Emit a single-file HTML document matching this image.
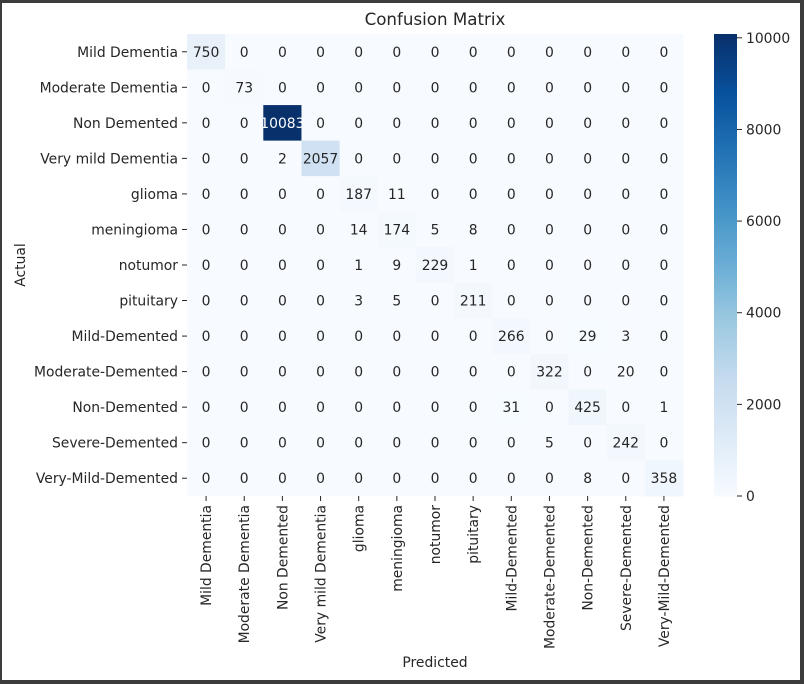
<!DOCTYPE html>
<html><head><meta charset="utf-8">
<style>
html,body{margin:0;padding:0;background:#fff;}
#frame{position:absolute;left:0;top:0;width:798px;height:677px;border-top:3px solid #3c3c3c;border-left:2px solid #3c3c3c;border-right:4px solid #3c3c3c;border-bottom:4px solid #3c3c3c;background:#fff;}
svg{position:absolute;left:0;top:0;}
text{font-family:"DejaVu Sans","Liberation Sans",sans-serif;font-size:13.9px;fill:#262626;}
</style></head>
<body>
<div id="frame"></div>
<svg id="chart" width="804" height="684"></svg>
<script>
const labels = ["Mild Dementia","Moderate Dementia","Non Demented","Very mild Dementia","glioma","meningioma","notumor","pituitary","Mild-Demented","Moderate-Demented","Non-Demented","Severe-Demented","Very-Mild-Demented"];
const matrix = [
[750,0,0,0,0,0,0,0,0,0,0,0,0],
[0,73,0,0,0,0,0,0,0,0,0,0,0],
[0,0,10083,0,0,0,0,0,0,0,0,0,0],
[0,0,2,2057,0,0,0,0,0,0,0,0,0],
[0,0,0,0,187,11,0,0,0,0,0,0,0],
[0,0,0,0,14,174,5,8,0,0,0,0,0],
[0,0,0,0,1,9,229,1,0,0,0,0,0],
[0,0,0,0,3,5,0,211,0,0,0,0,0],
[0,0,0,0,0,0,0,0,266,0,29,3,0],
[0,0,0,0,0,0,0,0,0,322,0,20,0],
[0,0,0,0,0,0,0,0,31,0,425,0,1],
[0,0,0,0,0,0,0,0,0,5,0,242,0],
[0,0,0,0,0,0,0,0,0,0,8,0,358]];
const cbTicks = [0,2000,4000,6000,8000,10000];

const NS="http://www.w3.org/2000/svg";
const svg=document.getElementById('chart');
const L=187,T=34,R=683,B=496;
const n=labels.length, cw=(R-L)/n, ch=(B-T)/n;
let vmax=0; matrix.forEach(r=>r.forEach(v=>{if(v>vmax)vmax=v;}));
const stops=[[247,251,255],[222,235,247],[198,219,239],[158,202,225],[107,174,214],[66,146,198],[33,113,181],[8,81,156],[8,48,107]];
function color(v){let t=Math.max(0,Math.min(1,v/vmax))*(stops.length-1);let i=Math.min(Math.floor(t),stops.length-2);let f=t-i;
 const c=stops[i].map((a,k)=>Math.round(a+(stops[i+1][k]-a)*f));return `rgb(${c[0]},${c[1]},${c[2]})`;}
function el(tag,attrs,txt){const e=document.createElementNS(NS,tag);for(const k in attrs)e.setAttribute(k,attrs[k]);if(txt!==undefined)e.textContent=txt;svg.appendChild(e);return e;}
const x=j=>L+j*cw, y=i=>T+i*ch;

for(let i=0;i<n;i++)for(let j=0;j<n;j++){
 const v=matrix[i][j];
 const r=el('rect',{x:x(j),y:y(i),width:cw+0.5,height:ch+0.5,fill:color(v)});
 
 
 const t=el('text',{x:x(j)+cw/2,y:y(i)+ch/2+5,'text-anchor':'middle',style:'font-size:13.9px;fill:'+(v/vmax>0.6?'#fff':'#262626')},v);
 
 
}
for(let i=0;i<n;i++){
 el('line',{x1:L-5,x2:L,y1:y(i)+ch/2,y2:y(i)+ch/2,stroke:'#262626'});
 const t=el('text',{x:L-9,y:y(i)+ch/2+5,'text-anchor':'end'},labels[i]);
 
 
 el('line',{x1:x(i)+cw/2,x2:x(i)+cw/2,y1:B,y2:B+5,stroke:'#262626'});
 const xt=el('text',{x:0,y:0,'text-anchor':'end',transform:`translate(${x(i)+cw/2+5},${B+9}) rotate(-90)`},labels[i]);
 
 
}
const title=el('text',{x:(L+R)/2,y:25,'text-anchor':'middle',style:'font-size:16.7px'},'Confusion Matrix');


const xl=el('text',{x:(L+R)/2,y:667,'text-anchor':'middle'},'Predicted');


const yl=el('text',{x:0,y:0,'text-anchor':'middle',transform:`translate(25,${(T+B)/2}) rotate(-90)`},'Actual');



const CL=714,CR=737;
const steps=200;
for(let k=0;k<steps;k++){
 const v0=vmax*k/steps;
 const yy=B-(B-T)*(k+1)/steps;
 const r=el('rect',{x:CL,y:yy,width:CR-CL,height:(B-T)/steps+0.6,fill:color(v0+vmax/steps/2)});
 
 
}
cbTicks.forEach(v=>{const yy=B-(B-T)*v/vmax;
 el('line',{x1:CR,x2:CR+5,y1:yy,y2:yy,stroke:'#262626'});
 const t=el('text',{x:CR+9,y:yy+5},v);
 
 
});
</script>
</body></html>
